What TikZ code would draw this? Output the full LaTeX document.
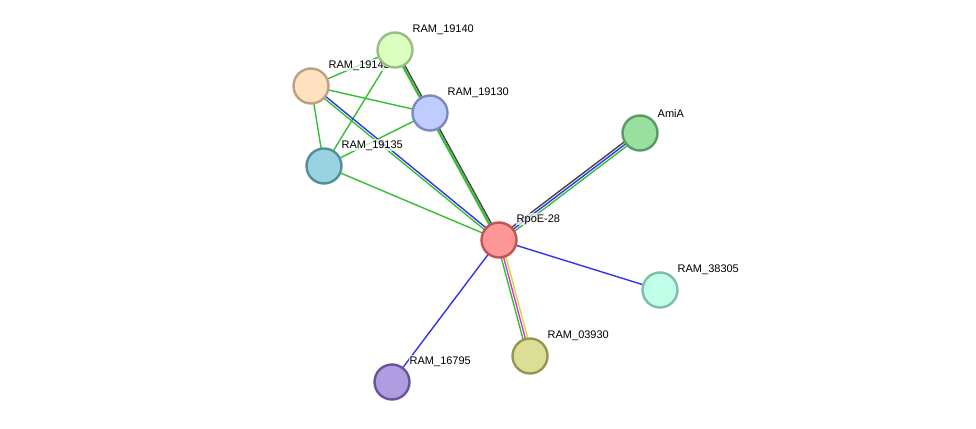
\documentclass[tikz,border=0pt]{standalone}
\usepackage{fontspec}
\setmainfont{Liberation Sans}
\usetikzlibrary{calc}
\definecolor{linkgreen}{HTML}{33C033}
\definecolor{linkblue}{HTML}{3333EE}
\definecolor{linkgray}{HTML}{444444}
\definecolor{linkpink}{HTML}{DD33DD}
\definecolor{linkyellow}{HTML}{CCDD33}
\newcommand{\link}[4]{\draw[#4] ($(#1)!#3!90:(#2)$) -- ($(#2)!#3!-90:(#1)$);}
\begin{document}
\begin{tikzpicture}[x=1pt,y=-1pt,
  every path/.style={line width=1.4pt},
  prot/.style={circle,draw,line width=2.4pt,minimum size=35pt,inner sep=0pt},
  lbl/.style={anchor=south west,inner sep=1pt,fill=white,fill opacity=0.7,text opacity=1,font=\fontsize{11}{11}\selectfont}]
\useasboundingbox (0,0) rectangle (976,428);
% positions
\coordinate (rpoe) at (499,240);
\coordinate (r19140) at (395,50);
\coordinate (r19145) at (311,86);
\coordinate (r19130) at (430,113);
\coordinate (r19135) at (324,166);
\coordinate (amia) at (640,133);
\coordinate (r38305) at (660,290);
\coordinate (r03930) at (530,356);
\coordinate (r16795) at (392,382);

% links
\link{r19145}{r19140}{0pt}{linkgreen}
\link{r19145}{r19130}{0pt}{linkgreen}
\link{r19145}{r19135}{0pt}{linkgreen}
\link{r19140}{r19135}{0pt}{linkgreen}
\link{r19135}{r19130}{0pt}{linkgreen}
\link{r19135}{rpoe}{0pt}{linkgreen}
\link{r19145}{rpoe}{1.2pt}{linkblue}
\link{r19145}{rpoe}{-1.2pt}{linkgreen}
\link{r19140}{rpoe}{-0.9pt}{linkgreen,line width=2.2pt}
\link{r19140}{rpoe}{1.2pt}{linkgray}
\link{amia}{rpoe}{2.4pt}{linkgreen}
\link{amia}{rpoe}{0pt}{linkblue}
\link{amia}{rpoe}{-2.4pt}{linkgray}
\link{rpoe}{r38305}{0pt}{linkblue}
\link{rpoe}{r16795}{0pt}{linkblue}
\link{rpoe}{r03930}{-2.4pt}{linkgreen}
\link{rpoe}{r03930}{0pt}{linkpink}
\link{rpoe}{r03930}{2.4pt}{linkyellow}

% proteins
\node[prot,fill={rgb,255:red,255;green,224;blue,192},draw={rgb,255:red,190;green,160;blue,128}] (n19145) at (r19145) {};
\node[lbl] at ($(r19145)+(16,-14)$) {RAM\_19145};
\node[prot,fill={rgb,255:red,218;green,255;blue,190},draw={rgb,255:red,150;green,190;blue,130}] (n19140) at (r19140) {};
\node[lbl] at ($(r19140)+(16,-14)$) {RAM\_19140};
\node[prot,fill={rgb,255:red,192;green,204;blue,255},draw={rgb,255:red,124;green,138;blue,190}] (n19130) at (r19130) {};
\node[lbl] at ($(r19130)+(16,-14)$) {RAM\_19130};
\node[prot,fill={rgb,255:red,153;green,211;blue,224},draw={rgb,255:red,84;green,142;blue,156}] (n19135) at (r19135) {};
\node[lbl] at ($(r19135)+(16,-14)$) {RAM\_19135};
\node[prot,fill={rgb,255:red,153;green,224;blue,160},draw={rgb,255:red,88;green,154;blue,98}] (namia) at (amia) {};
\node[lbl] at ($(amia)+(16,-14)$) {AmiA};
\node[prot,fill={rgb,255:red,192;green,255;blue,232},draw={rgb,255:red,124;green,190;blue,168}] (n38305) at (r38305) {};
\node[lbl] at ($(r38305)+(16,-14)$) {RAM\_38305};
\node[prot,fill={rgb,255:red,218;green,222;blue,150},draw={rgb,255:red,150;green,150;blue,84}] (n03930) at (r03930) {};
\node[lbl] at ($(r03930)+(16,-14)$) {RAM\_03930};
\node[prot,fill={rgb,255:red,176;green,156;blue,224},draw={rgb,255:red,104;green,84;blue,156}] (n16795) at (r16795) {};
\node[lbl] at ($(r16795)+(16,-14)$) {RAM\_16795};
\node[prot,fill={rgb,255:red,255;green,150;blue,150},draw={rgb,255:red,190;green,84;blue,84}] (nrpoe) at (rpoe) {};
\node[lbl] at ($(rpoe)+(16,-14)$) {RpoE-28};
\end{tikzpicture}
\end{document}
